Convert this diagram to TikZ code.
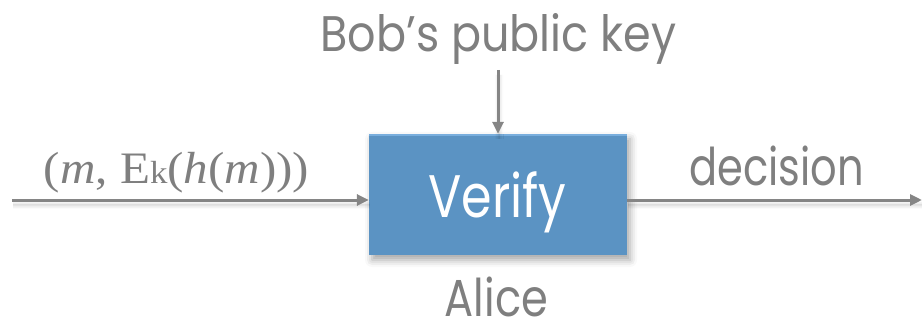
\documentclass[tikz,border=0pt]{standalone}
\usepackage{fontspec}
\setmainfont{Poppins}
\newfontfamily\serifmath{Liberation Serif}
\usetikzlibrary{arrows.meta,shadows.blur}
\definecolor{txtgray}{HTML}{7F7F7F}
\definecolor{arrgray}{HTML}{858585}
\definecolor{boxblue}{HTML}{5B93C3}
\definecolor{boxtop}{HTML}{79AEDD}
\tikzset{
  conn/.style={draw=arrgray, line width=3pt, -{Triangle[length=12pt,width=11pt]},
    blur shadow={shadow xshift=1pt, shadow yshift=-5pt, shadow opacity=25, shadow blur radius=4pt}},
  lbl/.style={text=txtgray, anchor=base, inner sep=0pt},
  procbox/.style={fill=boxblue, minimum width=258pt, minimum height=121pt, inner sep=0pt,
    blur shadow={shadow xshift=3pt, shadow yshift=-5pt, shadow opacity=35, shadow blur radius=7pt},
    text=white}
}
\begin{document}
\begin{tikzpicture}[x=1pt,y=1pt]
\useasboundingbox (0,0) rectangle (922,322);
\node[procbox] (verify) at (498,127.5) {};
\fill[boxtop] (verify.north west) rectangle ([yshift=-2pt]verify.north east);
\node[lbl, text=white, font=\fontsize{60}{62}\selectfont] (vtxt) at (497.5,105) {\scalebox{0.82}[1]{Verify}};
\coordinate (inL) at (12,122);
\coordinate (outR) at (922,122);
\coordinate (keyTop) at (498,252);
\draw[conn] (inL) -- (verify.west |- inL);
\draw[conn] (verify.east |- outR) -- (outR);
\draw[conn] (keyTop) -- (verify.north);
\node[lbl, font=\fontsize{50}{54}\selectfont] (key) at (498.5,270) {\scalebox{0.89}[1]{Bob’s public key}};
\node[lbl, font=\fontsize{52}{56}\selectfont] (dec) at (776.5,137) {\scalebox{0.8}[1]{decision}};
\node[lbl, font=\fontsize{52}{56}\selectfont] (alice) at (496.5,6) {\scalebox{0.83}[1]{Alice}};
\node[lbl, font=\serifmath\fontsize{45}{48}\selectfont] (msg) at (176.5,139) {\scalebox{1.09}[1]{(\textit{m}, E{\fontsize{32}{34}\selectfont k}(\textit{h}(\textit{m})))}};
\end{tikzpicture}
\end{document}
